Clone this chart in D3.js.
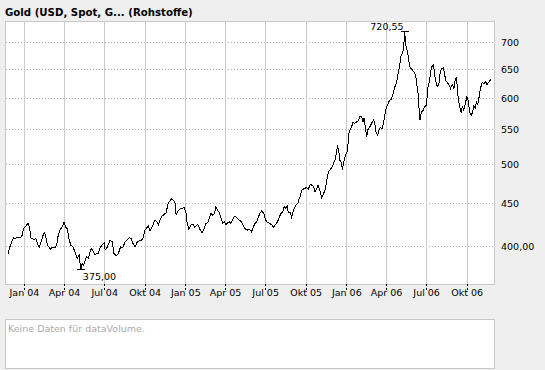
<!DOCTYPE html>
<html><head><meta charset="utf-8">
<script src="https://cdn.jsdelivr.net/npm/d3@7"></script>
<style>body{margin:0;background:#efefef;overflow:hidden}svg{display:block}</style>
</head><body><svg id="c" width="545" height="370"></svg>
<script>
const title = "Gold (USD, Spot, G... (Rohstoffe)";
const volumeMessage = "Keine Daten für dataVolume.";
const dates = ["2003-11-25","2003-11-29","2003-12-07","2003-12-12","2003-12-17","2003-12-22","2003-12-27","2003-12-30",
"2004-01-04","2004-01-07","2004-01-10","2004-01-13","2004-01-16","2004-01-19","2004-01-23","2004-01-27",
"2004-02-01","2004-02-04","2004-02-08","2004-02-11","2004-02-15","2004-02-18","2004-02-22","2004-02-26","2004-02-29",
"2004-03-03","2004-03-06","2004-03-10","2004-03-14","2004-03-18","2004-03-22","2004-03-25","2004-03-29","2004-03-31",
"2004-04-04","2004-04-07","2004-04-11","2004-04-15","2004-04-20","2004-04-23","2004-04-27","2004-04-30",
"2004-05-04","2004-05-08","2004-05-11","2004-05-14","2004-05-17","2004-05-21","2004-05-25","2004-05-29",
"2004-06-01","2004-06-05","2004-06-09","2004-06-13","2004-06-17","2004-06-20","2004-06-26","2004-06-30",
"2004-07-02","2004-07-07","2004-07-13","2004-07-18","2004-07-22","2004-07-27",
"2004-08-01","2004-08-06","2004-08-11","2004-08-16","2004-08-21","2004-08-26","2004-08-30",
"2004-09-03","2004-09-08","2004-09-12","2004-09-18","2004-09-23","2004-09-27","2004-09-30",
"2004-10-04","2004-10-08","2004-10-12","2004-10-16","2004-10-19","2004-10-23","2004-10-27","2004-10-31",
"2004-11-03","2004-11-07","2004-11-13","2004-11-17","2004-11-22","2004-11-26","2004-11-30",
"2004-12-04","2004-12-08","2004-12-10","2004-12-14","2004-12-19","2004-12-23","2004-12-28",
"2005-01-01","2005-01-04","2005-01-08","2005-01-12","2005-01-17","2005-01-21","2005-01-28",
"2005-02-02","2005-02-07","2005-02-12","2005-02-15","2005-02-20","2005-02-23","2005-02-27",
"2005-03-03","2005-03-07","2005-03-10","2005-03-14","2005-03-18","2005-03-22","2005-03-26","2005-03-29",
"2005-04-02","2005-04-06","2005-04-10","2005-04-13","2005-04-17","2005-04-21","2005-04-25","2005-04-30",
"2005-05-05","2005-05-09","2005-05-14","2005-05-18","2005-05-21","2005-05-26","2005-05-30",
"2005-06-03","2005-06-07","2005-06-11","2005-06-14","2005-06-18","2005-06-22","2005-06-27",
"2005-07-01","2005-07-06","2005-07-10","2005-07-15","2005-07-19","2005-07-24","2005-07-28",
"2005-08-01","2005-08-05","2005-08-09","2005-08-12","2005-08-16","2005-08-19","2005-08-21","2005-08-26","2005-08-29",
"2005-09-01","2005-09-04","2005-09-08","2005-09-12","2005-09-15","2005-09-17","2005-09-21","2005-09-27",
"2005-10-02","2005-10-06","2005-10-10","2005-10-13","2005-10-17","2005-10-21","2005-10-25","2005-10-28",
"2005-11-01","2005-11-05","2005-11-09","2005-11-13","2005-11-16","2005-11-20","2005-11-24","2005-11-28",
"2005-12-01","2005-12-05","2005-12-09","2005-12-11","2005-12-14","2005-12-16","2005-12-20","2005-12-22","2005-12-25","2005-12-29",
"2006-01-02","2006-01-04","2006-01-06","2006-01-09","2006-01-13","2006-01-15","2006-01-19","2006-01-23","2006-01-27","2006-01-30",
"2006-02-03","2006-02-07","2006-02-09","2006-02-13","2006-02-15","2006-02-18","2006-02-22","2006-02-26",
"2006-03-03","2006-03-06","2006-03-08","2006-03-12","2006-03-15","2006-03-18","2006-03-22","2006-03-25","2006-03-28",
"2006-04-01","2006-04-05","2006-04-08","2006-04-12","2006-04-16","2006-04-20","2006-04-24","2006-04-27",
"2006-05-01","2006-05-03","2006-05-06","2006-05-10","2006-05-12","2006-05-15","2006-05-17","2006-05-20","2006-05-22","2006-05-25","2006-05-29",
"2006-06-02","2006-06-06","2006-06-08","2006-06-12","2006-06-14","2006-06-16","2006-06-19","2006-06-23","2006-06-27",
"2006-07-01","2006-07-03","2006-07-06","2006-07-08","2006-07-12","2006-07-16","2006-07-18","2006-07-21","2006-07-25","2006-07-29",
"2006-08-01","2006-08-04","2006-08-08","2006-08-10","2006-08-13","2006-08-17","2006-08-21","2006-08-24","2006-08-28",
"2006-09-01","2006-09-03","2006-09-06","2006-09-08","2006-09-11","2006-09-14","2006-09-17","2006-09-20","2006-09-23","2006-09-26","2006-09-30",
"2006-10-03","2006-10-07","2006-10-10","2006-10-13","2006-10-16","2006-10-19","2006-10-22","2006-10-25","2006-10-28","2006-10-31",
"2006-11-04","2006-11-08","2006-11-12","2006-11-15","2006-11-19","2006-11-24"];
const prices = [391.5,399,409.2,408.5,410,409,412,420,
422,424.5,425.7,420,409,408.5,406.6,408.5,
401,399,404.7,410.3,415.3,411.5,401,399,396.7,
398,399,398,401,413,418,420.6,424.6,427,
420.6,420,408.5,401,399,395.6,390.3,386.8,
390.3,375,381.3,379.7,383.7,388.4,386.8,393.8,
397.5,394.6,390.3,392.1,392.1,397.5,401.9,403.6,
395.6,399,406.6,404.7,392.1,389.6,
392.1,399,398,404.7,406.6,409.2,408.5,
403,399,404,405.8,406.6,410.3,418,
420,422.9,416.8,420.6,424.6,429.5,427.6,423.7,
428.7,433.6,436.6,437.8,450,452.9,455.3,
453.7,450,435.4,440.3,442.7,443.7,444.5,
439.4,426.3,419,423.7,424.6,421.6,424.6,
418.7,414.8,419.7,425.7,426.5,431.6,437.5,
435.4,437.5,445.5,441.5,438.3,431.6,425.7,427.6,
423.7,426.5,427.6,425.7,429.5,434.2,433.4,430.3,
428.6,425.7,420,418.7,418,418.7,416,
421.6,425.7,427.6,432.8,437.5,440.6,437.5,
429.5,426.5,425.7,423.7,421.6,424.6,427.6,
433.4,437.5,439.4,445.5,443.5,446.3,439.4,438.3,432.8,
439.4,443.5,447.6,449.7,455.9,458,466.3,468.5,
469.7,467.6,474,472.8,471.5,464.3,468.5,472.8,
466.3,457.2,461.4,467.2,476.9,490,493.3,496,
500.6,506.3,518.4,527,518.4,506.3,502.5,492.6,503.9,513.3,
518.4,530.3,545,551,557.2,562.3,559.8,562.3,563.8,570.1,
571.2,562.3,567.6,549.6,539.6,550.6,554.5,559.8,
565.9,557.2,547.2,542.2,549.6,553.7,552.2,559.8,572.7,
586.3,591.8,596.7,598.3,607.7,618.8,627.4,640.4,
656.8,672,676.5,687.7,720.55,693.8,687.7,675.1,662.6,650.9,649.6,
644.9,639.1,627.4,605,580.6,564.9,577,580.6,586.3,
588.6,616.3,624.7,633.3,653.3,657.5,647.9,630.4,618.8,624.7,
646.1,650.9,651.9,644.9,630.4,626.5,621.8,616.3,623,
616.3,627.4,636,623,596.7,586.3,577,586.3,580.6,588.6,602.2,
596.7,577,572.7,577,587.9,583.7,593.3,590,602.2,616.3,
626.5,624.7,627.4,623,627.4,631.8];
const yTickValues = [400,450,500,550,600,650,700];
const yTickLabels = ["400,00","450","500","550","600","650","700"];
const xTickDates = ["2004-01-01","2004-04-01","2004-07-01","2004-10-01","2005-01-01","2005-04-01","2005-07-01","2005-10-01","2006-01-01","2006-04-01","2006-07-01","2006-10-01"];
const xTickLabels = ["Jan 04","Apr 04","Jul 04","Okt 04","Jan 05","Apr 05","Jul 05","Okt 05","Jan 06","Apr 06","Jul 06","Okt 06"];

const parse = d3.utcParse("%Y-%m-%d");
const data = dates.map((d,i)=>({date:parse(d), value:prices[i]}));
const svg = d3.select("#c");
const FONT = "'DejaVu Sans', Verdana, sans-serif";

const x = d3.scaleUtc().domain([parse("2003-11-18"), parse("2006-12-03")]).range([5,495]);
const y = d3.scaleLog().domain([360.5,741.5]).range([284,21]);
const px = v => Math.floor(v)+0.5;

// title
svg.append("text").attr("x",5).attr("y",16).attr("font-family",FONT).attr("font-weight","bold")
  .attr("font-size","10.2px").attr("fill","#000").text(title);

// plot background
svg.append("rect").attr("x",5.5).attr("y",21.5).attr("width",489).attr("height",263)
  .attr("fill","#fff").attr("stroke","none");

// horizontal dotted gridlines
svg.append("g").selectAll("line").data(yTickValues).join("line")
  .attr("x1",6).attr("x2",494).attr("y1",d=>px(y(d))).attr("y2",d=>px(y(d)))
  .attr("stroke","#b0b0b0").attr("stroke-dasharray","1,2").attr("shape-rendering","crispEdges");

// vertical gridlines
const xt = xTickDates.map(parse);
svg.append("g").selectAll("line").data(xt).join("line")
  .attr("x1",d=>px(x(d))).attr("x2",d=>px(x(d))).attr("y1",22).attr("y2",284)
  .attr("stroke","#cacaca").attr("shape-rendering","crispEdges");

// frame
svg.append("rect").attr("x",5.5).attr("y",21.5).attr("width",489).attr("height",263)
  .attr("fill","none").attr("stroke","#c8c8c8").attr("shape-rendering","crispEdges");

// x tick marks & labels
svg.append("g").selectAll("line").data(xt).join("line")
  .attr("x1",d=>px(x(d))).attr("x2",d=>px(x(d))).attr("y1",284).attr("y2",291)
  .attr("stroke","#000").attr("stroke-dasharray","2,2").attr("shape-rendering","crispEdges");
svg.append("g").selectAll("text").data(xt).join("text")
  .attr("x",d=>x(d)).attr("y",296).attr("text-anchor","middle")
  .attr("font-family",FONT).attr("font-size","9.5px").attr("fill","#000")
  .text((d,i)=>xTickLabels[i]);

// y labels
svg.append("g").selectAll("text").data(yTickValues).join("text")
  .attr("x",501).attr("y",d=>y(d)+3.5)
  .attr("font-family",FONT).attr("font-size","9.5px").attr("fill","#000")
  .text((d,i)=>yTickLabels[i]);

// price line
svg.append("path").datum(data)
  .attr("d", d3.line().x(d=>x(d.date)).y(d=>y(d.value)))
  .attr("fill","none").attr("stroke","#000").attr("stroke-width",1)
  .attr("shape-rendering","crispEdges");

// min / max annotations
const fmt = v => d3.format(".2f")(v).replace(".",",");
const maxD = data[d3.maxIndex(data,d=>d.value)];
const minD = data[d3.minIndex(data,d=>d.value)];
const mxX = x(maxD.date), mxY = px(y(maxD.value));
svg.append("line").attr("x1",mxX-4).attr("x2",mxX+4).attr("y1",mxY).attr("y2",mxY)
  .attr("stroke","#000").attr("shape-rendering","crispEdges");
svg.append("text").attr("x",mxX-1).attr("y",mxY-1.5).attr("text-anchor","end")
  .attr("font-family",FONT).attr("font-size","9.5px").attr("fill","#000").text(fmt(maxD.value));
const mnX = x(minD.date), mnY = px(y(minD.value));
svg.append("line").attr("x1",mnX-4).attr("x2",mnX+4).attr("y1",mnY).attr("y2",mnY)
  .attr("stroke","#000").attr("shape-rendering","crispEdges");
svg.append("text").attr("x",mnX+2).attr("y",mnY+10.5)
  .attr("font-family",FONT).attr("font-size","9.5px").attr("fill","#000").text(fmt(minD.value));

// volume panel
svg.append("rect").attr("x",5.5).attr("y",319.5).attr("width",489).attr("height",49)
  .attr("fill","#fff").attr("stroke","#c8c8c8").attr("shape-rendering","crispEdges");
svg.append("text").attr("x",8).attr("y",332).attr("font-family",FONT).attr("font-size","9.5px")
  .attr("fill","#aaa").text(volumeMessage);
</script></body></html>
